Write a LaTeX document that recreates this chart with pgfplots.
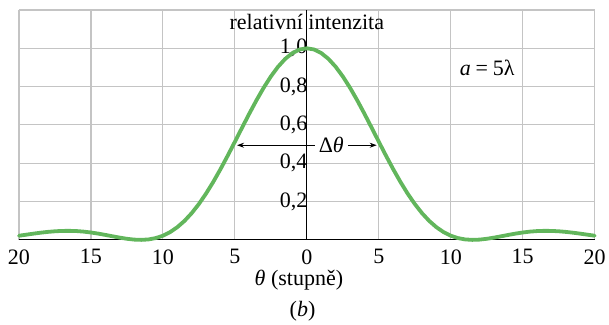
\documentclass[border=0pt]{standalone}
\usepackage{fontspec}
\setmainfont{Liberation Serif}
\usepackage{pgfplots}
\usepackage{pgfplotstable}
\pgfplotsset{compat=1.18}
\usetikzlibrary{arrows.meta}

\definecolor{curvegreen}{RGB}{98,182,92}
\definecolor{gridgray}{RGB}{196,196,196}

% single-slit pattern, a = 5 lambda: relative intensity vs. angle (degrees)
\pgfplotstableread{
theta I
-20.0 0.0216
-19.5 0.0270
-19.0 0.0324
-18.5 0.0374
-18.0 0.0416
-17.5 0.0448
-17.0 0.0467
-16.5 0.0471
-16.0 0.0459
-15.5 0.0430
-15.0 0.0385
-14.5 0.0327
-14.0 0.0259
-13.5 0.0187
-13.0 0.0117
-12.5 0.0056
-12.0 0.0014
-11.5 0.0000
-11.0 0.0023
-10.5 0.0093
-10.0 0.0217
-9.5 0.0405
-9.0 0.0662
-8.5 0.0991
-8.0 0.1395
-7.5 0.1873
-7.0 0.2419
-6.5 0.3029
-6.0 0.3691
-5.5 0.4393
-5.0 0.5121
-4.5 0.5858
-4.0 0.6587
-3.5 0.7287
-3.0 0.7941
-2.5 0.8530
-2.0 0.9038
-1.5 0.9449
-1.0 0.9752
-0.5 0.9938
0.0 1.0000
0.5 0.9938
1.0 0.9752
1.5 0.9449
2.0 0.9038
2.5 0.8530
3.0 0.7941
3.5 0.7287
4.0 0.6587
4.5 0.5858
5.0 0.5121
5.5 0.4393
6.0 0.3691
6.5 0.3029
7.0 0.2419
7.5 0.1873
8.0 0.1395
8.5 0.0991
9.0 0.0662
9.5 0.0405
10.0 0.0217
10.5 0.0093
11.0 0.0023
11.5 0.0000
12.0 0.0014
12.5 0.0056
13.0 0.0117
13.5 0.0187
14.0 0.0259
14.5 0.0327
15.0 0.0385
15.5 0.0430
16.0 0.0459
16.5 0.0471
17.0 0.0467
17.5 0.0448
18.0 0.0416
18.5 0.0374
19.0 0.0324
19.5 0.0270
20.0 0.0216
}\intensity

\begin{document}
\begin{tikzpicture}[font=\rmfamily\fontsize{22bp}{26bp}\selectfont]
\begin{axis}[
  scale only axis,
  width=576bp, height=230bp,
  xmin=-20, xmax=20, ymin=0, ymax=1.2,
  axis x line=bottom, axis y line=center,
  axis line style={-, black, line width=0.9bp},
  hide obscured x ticks=false, hide obscured y ticks=false,
  xtick={-20,-15,...,20},
  xticklabels={20,15,10,5,0,5,10,15,20},
  ytick={0.2,0.4,0.6,0.8,1.0,1.2},
  yticklabels={{0,2},{0,4},{0,6},{0,8},{1,0},{}},
  major tick length=0pt,
  grid=major,
  grid style={gridgray, line width=1.1bp},
  xticklabel style={yshift=-6bp, font=\rmfamily\fontsize{22bp}{26bp}\selectfont},
  yticklabel style={anchor=east, xshift=4bp, font=\rmfamily\fontsize{22bp}{26bp}\selectfont},
  clip=false,
]
\addplot[curvegreen, line width=3.8bp, line join=round, line cap=round]
  table[x=theta, y=I] {\intensity};

% axis titles
\node[anchor=base] at (axis cs:0,1.096) {relativní intenzita};
\node[anchor=base] at ([yshift=-46bp]axis cs:-0.55,0) {\textit{θ} (stupně)};
\node[anchor=base] at ([yshift=-77bp]axis cs:-0.3,0) {(\textit{b})};

% slit width
\node[anchor=base] at (axis cs:12.53,0.856) {\textit{a}\hspace{0.22em}=\hspace{0.22em}5λ};

% width of the central maximum
\draw[-{Stealth[length=7bp,width=5bp]}, line width=0.8bp]
  (axis cs:0.55,0.494) -- (axis cs:-4.85,0.494);
\draw[-{Stealth[length=7bp,width=5bp]}, line width=0.8bp]
  (axis cs:2.85,0.494) -- (axis cs:4.85,0.494);
\node at (axis cs:1.7,0.494) {Δ\textit{θ}};

% page margins around the plot area
\path ([shift={(-19bp,-81bp)}]rel axis cs:0,0) rectangle ([shift={(14bp,10bp)}]rel axis cs:1,1);
\end{axis}
\end{tikzpicture}
\end{document}
